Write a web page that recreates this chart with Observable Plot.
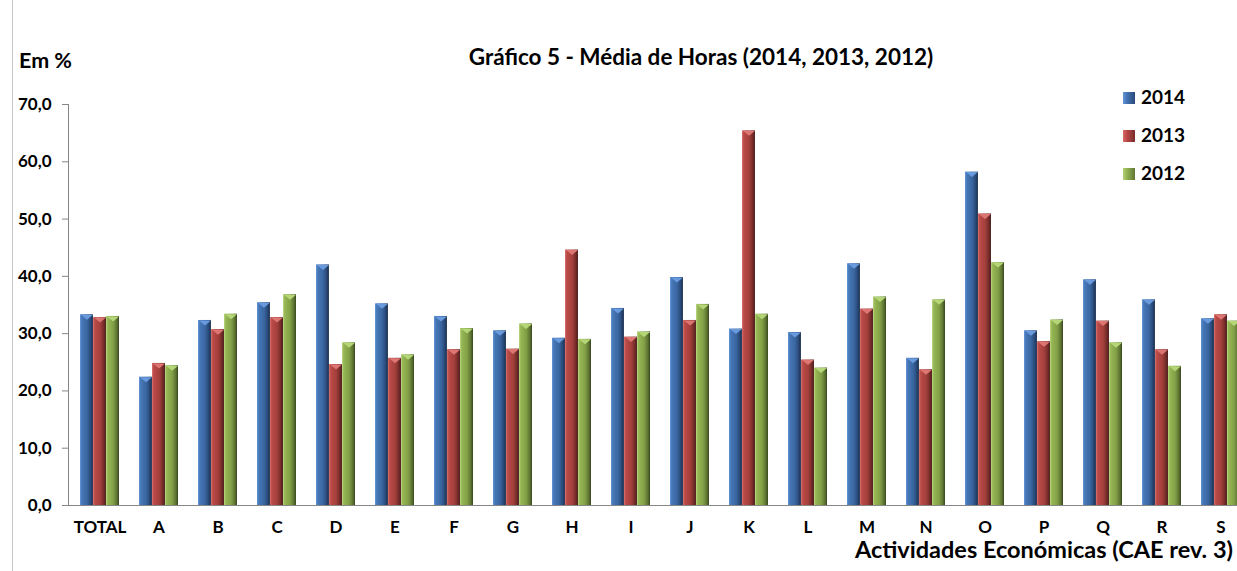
<!DOCTYPE html>
<html><head><meta charset="utf-8">
<script src="https://cdn.jsdelivr.net/npm/d3@7"></script>
<script src="https://cdn.jsdelivr.net/npm/@observablehq/plot@0.6"></script>
<style>
html,body{margin:0;padding:0;background:#fff;overflow:hidden;width:1237px;height:571px}
#wrap{position:relative;width:1237px;height:571px;overflow:hidden;font-family:Lato,"Open Sans",sans-serif;font-weight:bold;color:#000}
#wrap .t{position:absolute;white-space:nowrap;line-height:1}
#border{position:absolute;left:12px;top:0;width:0;height:571px;border-left:1px solid #c8c8c8}
#chart{position:absolute;left:0;top:0}
#chart svg{max-width:none !important;height:571px !important}
.sw{position:absolute;width:12px;height:12px}
</style></head>
<body><div id="wrap">
<div id="border"></div>
<div id="chart"></div>
<div class="t" id="title" style="left:0;width:1402px;text-align:center;top:46px;font-size:22.5px">Gráfico 5 - Média de Horas (2014, 2013, 2012)</div>
<div class="t" style="left:19px;top:50px;font-size:21.5px">Em %</div>
<div class="t" style="right:4px;top:538px;font-size:23.5px">Actividades Económicas (CAE rev. 3)</div>
<div id="legend"></div>
</div>
<script>
const categories = ["TOTAL","A","B","C","D","E","F","G","H","I","J","K","L","M","N","O","P","Q","R","S"];
const years = ["2014","2013","2012"];
const v2014 = [33.3,22.4,32.3,35.4,42.0,35.2,33.0,30.5,29.2,34.4,39.8,30.8,30.2,42.2,25.7,58.2,30.5,39.4,35.9,32.6];
const v2013 = [32.8,24.8,30.7,32.8,24.6,25.7,27.2,27.3,44.6,29.4,32.3,65.4,25.4,34.3,23.7,50.9,28.6,32.2,27.2,33.3];
const v2012 = [33.0,24.4,33.4,36.8,28.4,26.3,30.9,31.7,29.0,30.3,35.1,33.4,24.0,36.4,35.9,42.4,32.4,28.4,24.3,32.2];
const yTicks = [0,10,20,30,40,50,60,70];
const seriesValues = {"2014": v2014, "2013": v2013, "2012": v2012};
const palette = {
  "2014": ["#6596d6","#4677b8","#3a66a0","#294a78","#182c4a","#6a9ade"],
  "2013": ["#d66b68","#bb4a47","#a3403c","#782d2b","#481a19","#dd7673"],
  "2012": ["#b2d175","#96b654","#82a047","#5f7633","#38481e","#b5d676"]
};

const rows = [];
years.forEach(y => categories.forEach((c, i) => rows.push({cat: c, year: y, value: seriesValues[y][i]})));

const W = 1251, H = 571, mL = 68, mR = 0, mT = 104, mB = 66;
const pIn = 0.34, pOut = 0.15;
const step = (W - mL - mR) / (categories.length - pIn + 2 * pOut);
const bw = step * (1 - pIn);
const w3 = bw / 3;

function defs() {
  const ns = "http://www.w3.org/2000/svg";
  const d = document.createElementNS(ns, "defs");
  for (const y of years) {
    const g = document.createElementNS(ns, "linearGradient");
    g.setAttribute("id", "g" + y);
    g.setAttribute("x1", "0"); g.setAttribute("x2", "1"); g.setAttribute("y1", "0"); g.setAttribute("y2", "0");
    const stops = [[0,0],[0.14,1],[0.55,2],[0.82,3],[1,4]];
    for (const [o, k] of stops) {
      const s = document.createElementNS(ns, "stop");
      s.setAttribute("offset", o);
      s.setAttribute("stop-color", palette[y][k]);
      g.appendChild(s);
    }
    d.appendChild(g);
  }
  return d;
}

// flat downward bevel cap drawn at the top of each bar
const capSymbol = {
  draw(ctx) {
    const hw = w3 / 2 - 0.5, h = 5;
    ctx.moveTo(-hw, 0); ctx.lineTo(hw, 0); ctx.lineTo(0, h); ctx.closePath();
  }
};

const marks = [defs];
years.forEach((y, i) => {
  const data = rows.filter(r => r.year === y);
  marks.push(Plot.barY(data, {
    x: "cat", y: "value", fill: `url(#g${y})`,
    insetLeft: i * w3, insetRight: (2 - i) * w3
  }));
  marks.push(Plot.dot(data, {
    x: "cat", y: "value", symbol: capSymbol, r: 4, fill: palette[y][5], stroke: "none",
    dx: (i - 1) * w3
  }));
});
marks.push(Plot.ruleY([0], {stroke: "#868686"}));
marks.push(Plot.frame({anchor: "left", stroke: "#868686"}));
marks.push(Plot.axisY({ticks: yTicks, tickFormat: d => d.toFixed(1).replace(".", ","), tickSize: 6, tickPadding: 11, stroke: "#868686", fill: "#000", fontSize: 17, fontWeight: "bold", label: null}));
marks.push(Plot.axisX({tickSize: 0, tickPadding: 15, fill: "#000", fontSize: 17, fontWeight: "bold", label: null}));

const chart = Plot.plot({
  width: W, height: H,
  marginLeft: mL, marginRight: mR, marginTop: mT, marginBottom: mB,
  style: {fontFamily: "Lato, 'Open Sans', sans-serif", fontWeight: "bold", background: "transparent", overflow: "visible"},
  x: {type: "band", domain: categories, paddingInner: pIn, paddingOuter: pOut},
  y: {domain: [0, 70]},
  marks
});
document.getElementById("chart").appendChild(chart);

const legend = document.getElementById("legend");
years.forEach((y, i) => {
  const top = 92 + i * 38;
  const sw = document.createElement("div");
  sw.className = "sw";
  sw.style.left = "1123px"; sw.style.top = top + "px";
  sw.style.background = `linear-gradient(90deg, ${palette[y][0]}, ${palette[y][1]} 30%, ${palette[y][3]})`;
  legend.appendChild(sw);
  const t = document.createElement("div");
  t.className = "t";
  t.style.left = "1141px"; t.style.top = (top - 5) + "px"; t.style.fontSize = "19px";
  t.textContent = y;
  legend.appendChild(t);
});
</script>
</body></html>
